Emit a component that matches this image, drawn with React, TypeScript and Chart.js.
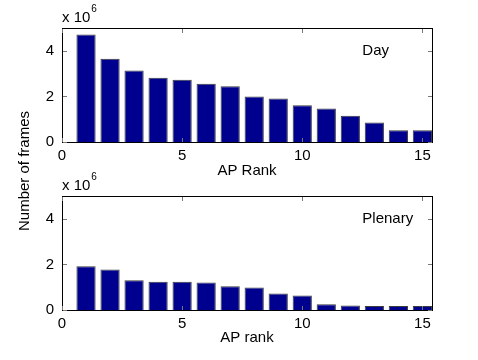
import React, { useEffect, useRef } from "react";
import { Chart, registerables } from "chart.js";

Chart.register(...registerables);

// ---- data (values in units of 10^6 frames) ----
const ranks = [1, 2, 3, 4, 5, 6, 7, 8, 9, 10, 11, 12, 13, 14, 15];
const dayFrames = [4.71, 3.65, 3.14, 2.82, 2.73, 2.56, 2.45, 2.0, 1.91, 1.61, 1.47, 1.15, 0.86, 0.51, 0.51];
const plenaryFrames = [1.92, 1.78, 1.3, 1.24, 1.24, 1.21, 1.04, 0.99, 0.72, 0.64, 0.25, 0.2, 0.18, 0.18, 0.18];
const xTicks = [0, 5, 10, 15];
const yTicks = [0, 2, 4];
const xMin = 0;
const xMax = 15.4;
const yMin = 0;
const yMax = 5;

const W = 478;
const H = 360;
const FONT_FAMILY = '"Liberation Sans", Arial, Helvetica, sans-serif';
const BAR_FILL = "#00008f";
const BAR_EDGE = "#3c3c3c";

type PanelCfg = {
  top: number;
  bottom: number;
  xTitle: string;
  xTitleOffset: number;
  panelLabel: string;
  yLabel?: string;
};

function framePlugin(p: PanelCfg) {
  return {
    id: "matlabFrame",
    afterDraw(chart: any) {
      const ctx: CanvasRenderingContext2D = chart.ctx;
      const { left, right, top, bottom } = chart.chartArea;
      const xs = chart.scales.x;
      const ys = chart.scales.y;
      ctx.save();
      // box
      ctx.strokeStyle = "#000";
      ctx.lineWidth = 1;
      ctx.strokeRect(left + 0.5, top + 0.5, right - left, bottom - top);
      // inward ticks
      ctx.strokeStyle = "#777";
      const tl = 4;
      ctx.beginPath();
      xTicks.forEach((v) => {
        const px = Math.round(xs.getPixelForValue(v)) + 0.5;
        ctx.moveTo(px, bottom);
        ctx.lineTo(px, bottom - tl);
        ctx.moveTo(px, top + 1);
        ctx.lineTo(px, top + 1 + tl);
      });
      yTicks.forEach((v) => {
        const py = Math.round(ys.getPixelForValue(v)) + 0.5;
        ctx.moveTo(left + 1, py);
        ctx.lineTo(left + 1 + tl, py);
        ctx.moveTo(right, py);
        ctx.lineTo(right - tl, py);
      });
      ctx.stroke();

      ctx.fillStyle = "#000";
      // x title
      ctx.font = `15px ${FONT_FAMILY}`;
      ctx.textAlign = "center";
      ctx.textBaseline = "middle";
      ctx.fillText(p.xTitle, (left + right) / 2, bottom + p.xTitleOffset);

      // panel label inside plot
      ctx.textAlign = "left";
      ctx.fillText(p.panelLabel, xs.getPixelForValue(12.5), ys.getPixelForValue(4));

      // exponent multiplier
      ctx.textBaseline = "alphabetic";
      ctx.font = `15px ${FONT_FAMILY}`;
      const base = "x 10";
      ctx.fillText(base, left, top - 6.5);
      const bw = ctx.measureText(base).width;
      ctx.font = `10px ${FONT_FAMILY}`;
      ctx.fillText("6", left + bw + 1, top - 16);

      // shared y label
      if (p.yLabel) {
        ctx.font = `15px ${FONT_FAMILY}`;
        ctx.translate(25, 171);
        ctx.rotate(-Math.PI / 2);
        ctx.textAlign = "center";
        ctx.textBaseline = "middle";
        ctx.fillText(p.yLabel, 0, 0);
      }
      ctx.restore();
    },
  };
}

function makeChart(canvas: HTMLCanvasElement, values: number[], p: PanelCfg) {
  const tickFont = { family: FONT_FAMILY, size: 15 };
  const axisH = 30;
  return new Chart(canvas, {
    type: "bar",
    data: {
      datasets: [
        {
          data: ranks.map((r, i) => ({ x: r, y: values[i] })),
          backgroundColor: BAR_FILL,
          borderColor: BAR_EDGE,
          borderWidth: 1,
          barPercentage: 0.8,
          categoryPercentage: 1,
        } as any,
      ],
    },
    options: {
      responsive: false,
      maintainAspectRatio: false,
      animation: false,
      events: [],
      layout: {
        padding: { left: 0, right: W - 432, top: p.top, bottom: H - p.bottom - axisH },
      },
      plugins: {
        legend: { display: false },
        tooltip: { enabled: false },
        title: { display: false },
      },
      scales: {
        x: {
          type: "linear",
          min: xMin,
          max: xMax,
          offset: false,
          grid: { display: false, drawTicks: false },
          border: { display: false },
          ticks: { padding: 5, font: tickFont, color: "#000", maxRotation: 0, autoSkip: false },
          afterBuildTicks: (s: any) => {
            s.ticks = xTicks.map((v) => ({ value: v }));
          },
          afterFit: (s: any) => {
            s.height = axisH;
          },
        },
        y: {
          type: "linear",
          min: yMin,
          max: yMax,
          grid: { display: false, drawTicks: false },
          border: { display: false },
          ticks: { padding: 8, font: tickFont, color: "#000" },
          afterBuildTicks: (s: any) => {
            s.ticks = yTicks.map((v) => ({ value: v }));
          },
          afterFit: (s: any) => {
            s.width = 62;
          },
        },
      } as any,
    },
    plugins: [framePlugin(p)],
  });
}

export default function App() {
  const topRef = useRef<HTMLCanvasElement>(null);
  const botRef = useRef<HTMLCanvasElement>(null);

  useEffect(() => {
    const c1 = makeChart(topRef.current!, dayFrames, {
      top: 28,
      bottom: 142,
      xTitle: "AP Rank",
      xTitleOffset: 29,
      panelLabel: "Day",
      yLabel: "Number of frames",
    });
    const c2 = makeChart(botRef.current!, plenaryFrames, {
      top: 196,
      bottom: 310,
      xTitle: "AP rank",
      xTitleOffset: 27.5,
      panelLabel: "Plenary",
    });
    return () => {
      c1.destroy();
      c2.destroy();
    };
  }, []);

  const style: React.CSSProperties = { position: "absolute", left: 0, top: 0, width: W, height: H };
  return (
    <div style={{ position: "absolute", left: 0, top: 0, width: W, height: H, background: "#fff" }}>
      <canvas ref={topRef} width={W} height={H} style={style} />
      <canvas ref={botRef} width={W} height={H} style={style} />
    </div>
  );
}
